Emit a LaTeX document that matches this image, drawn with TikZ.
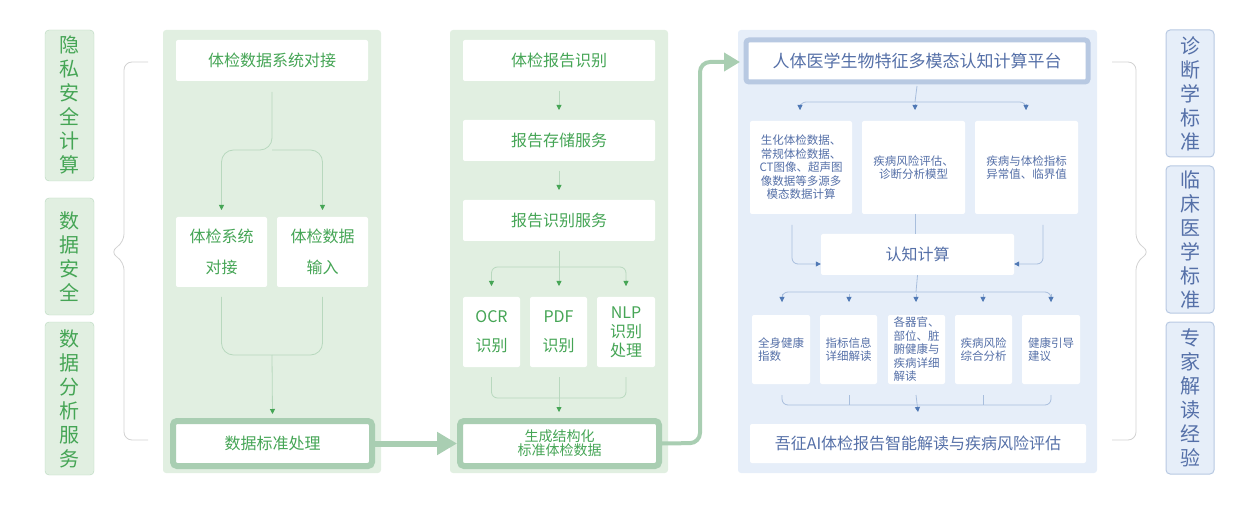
\documentclass[tikz,border=0pt]{standalone}
\usepackage{fontspec}
\setmainfont{Noto Sans CJK SC}
\usetikzlibrary{arrows.meta}
\definecolor{gbg}{HTML}{E1EFE1}
\definecolor{gtx}{HTML}{45A555}
\definecolor{gbd}{HTML}{A9CEB2}
\definecolor{gln}{HTML}{B8D8BE}
\definecolor{bbg}{HTML}{E6EEF9}
\definecolor{btx}{HTML}{5570A8}
\definecolor{bbd}{HTML}{B8C9E2}
\definecolor{bln}{HTML}{A8BEDD}
\definecolor{barr}{HTML}{4F78B5}
\begin{document}
\begin{tikzpicture}[x=1pt,y=-1pt,
  gbox/.style={fill=white,draw=none,rounded corners=2,text=gtx,font=\fontsize{16}{22}\selectfont,align=center,inner sep=0},
  bbox/.style={fill=white,draw=none,rounded corners=2,text=btx,font=\fontsize{11.5}{13.5}\selectfont,align=center,inner sep=0},
  glab/.style={fill=gbg,draw=gln,rounded corners=4,text=gtx,font=\fontsize{20}{24}\selectfont,align=center,inner sep=0,minimum width=49},
  blab/.style={fill=bbg,draw=bbd,line width=1,rounded corners=4,text=btx,font=\fontsize{20}{24}\selectfont,align=center,inner sep=0,minimum width=48},
  gl/.style={draw=gln,line width=0.8,rounded corners=12},
  ga/.style={draw=gln,line width=0.8,-{Triangle[length=5pt,width=5pt,fill=gtx,color=gtx]}},
  bl/.style={draw=bln,line width=0.8,rounded corners=10},
  ba/.style={draw=bln,line width=0.8,-{Triangle[length=5pt,width=5pt,fill=barr,color=barr]}},
  thickg/.style={gbox,draw=gbd,line width=6,rounded corners=4}]
\useasboundingbox (0,0) rectangle (1259,505);
% panels
\fill[gbg,rounded corners=3] (163,30) rectangle (381,473);
\fill[gbg,rounded corners=3] (450,30) rectangle (668,473);
\fill[bbg,rounded corners=3] (738,30) rectangle (1097,473);
% left labels
\node[glab,minimum height=151] (l1) at (69.5,105.5) {隐\\私\\安\\全\\计\\算};
\node[glab,minimum height=117] (l2) at (69.5,256.5) {数\\据\\安\\全};
\node[glab,minimum height=153] (l3) at (69.5,398.5) {数\\据\\分\\析\\服\\务};
% right labels
\node[blab,minimum height=127] (r1) at (1190,93.5) {诊\\断\\学\\标\\准};
\node[blab,minimum height=147] (r2) at (1190,239.5) {临\\床\\医\\学\\标\\准};
\node[blab,minimum height=152] (r3) at (1190,398) {专\\家\\解\\读\\经\\验};
% braces
\draw[gray!35,line width=0.8,rounded corners=8] (148,62) -- (124,62) -- (124,242) -- (110,252) -- (124,262) -- (124,440) -- (148,440);
\draw[gray!35,line width=0.8,rounded corners=8] (1112,62) -- (1136,62) -- (1136,242) -- (1150,252) -- (1136,262) -- (1136,440) -- (1112,440);
% panel 1
\node[gbox,minimum width=192,minimum height=41] (a1) at (272,60.5) {体检数据系统对接};
\node[gbox,minimum width=91,minimum height=70,font=\fontsize{16}{31}\selectfont] (a2) at (221.5,252) {体检系统\\对接};
\node[gbox,minimum width=91,minimum height=70,font=\fontsize{16}{31}\selectfont] (a3) at (322.5,252) {体检数据\\输入};
\node[thickg,minimum width=199,minimum height=45] (a4) at (272.5,443.5) {数据标准处理};
\coordinate (a1s) at (272,92);
\draw[gl] (a1s) -- (272,150) -| (a2.north|-0,210);
\draw[gl] (272,150) -| (a3.north|-0,210);
\draw[ga] (221.5,200) -- (221.5,210);
\draw[ga] (322.5,200) -- (322.5,210);
\draw[gl] (221.5,297) -- (221.5,355) -| (322.5,297);
\draw[ga] (272,355) -- (a4.north|-0,414);
% panel 2
\node[gbox,minimum width=192,minimum height=41] (b1) at (559,60.5) {体检报告识别};
\node[gbox,minimum width=192,minimum height=41] (b2) at (559,140.5) {报告存储服务};
\node[gbox,minimum width=192,minimum height=41] (b3) at (559,220.5) {报告识别服务};
\node[gbox,minimum width=57,minimum height=70,font=\fontsize{16}{29}\selectfont] (o1) at (491.5,332) {OCR\\识别};
\node[gbox,minimum width=57,minimum height=70,font=\fontsize{16}{29}\selectfont] (o2) at (558.5,332) {PDF\\识别};
\node[gbox,minimum width=58,minimum height=70,font=\fontsize{16}{19}\selectfont] (o3) at (626,332) {NLP\\识别\\处理};
\node[thickg,minimum width=199,minimum height=45,font=\fontsize{14}{14}\selectfont] (b4) at (559.5,443.5) {生成结构化\\标准体检数据};
\draw[ga] (559,91) -- (559,110);
\draw[ga] (559,171) -- (559,190);
\draw[ga] (559,251) -- (559,286);
\draw[gl,rounded corners=6] (491.5,286) |- (626,267) -- (626,286);
\draw[ga] (491.5,280) -- (491.5,286);
\draw[ga] (626,280) -- (626,286);
\draw[gl,rounded corners=6] (491.5,377) |- (626,398) -- (626,377);
\draw[ga] (559,377) -- (559,412);
% big arrows
\draw[gbd,line width=6,-{Triangle[length=20pt,width=22pt]}] (a4.east) -- (b4.west);
\draw[gbd,line width=4,rounded corners=10,-{Triangle[length=16pt,width=18pt]}] (b4.east) -- (700,443) -- (700,62) -- (740,62);
% panel 3
\node[bbox,draw=bbd,line width=5,rounded corners=3,minimum width=342,minimum height=42,font=\fontsize{17}{20}\selectfont] (c0) at (917,61) {人体医学生物特征多模态认知计算平台};
\node[bbox,minimum width=102,minimum height=93] (c1) at (801,167.5) {生化体检数据、\\常规体检数据、\\CT图像、超声图\\像数据等多源多\\模态数据计算};
\node[bbox,minimum width=103,minimum height=93] (c2) at (913.5,167.5) {疾病风险评估、\\诊断分析模型};
\node[bbox,minimum width=103,minimum height=93] (c3) at (1026.5,167.5) {疾病与体检指标\\异常值、临界值};
\node[bbox,minimum width=193,minimum height=41,font=\fontsize{16}{18}\selectfont] (ck) at (917.5,254.5) {认知计算};
\draw[bl,rounded corners=6] (c0.south|-0,86) -- (915,102);
\draw[bl,rounded corners=6] (800,110) |- (1026,102) -- (1026,110);
\draw[ba] (800,104) -- (800,110);
\draw[ba] (915,104) -- (915,110);
\draw[ba] (1026,104) -- (1026,110);
\draw[ba,rounded corners=6] (792,225) |- (ck.west|-0,264);
\draw[ba,rounded corners=6] (1043,225) |- (ck.east|-0,264);
\draw[bl] (915,214) -- (915,234);
\node[bbox,minimum width=58,minimum height=69] (d1) at (781,349.5) {全身健康\\指数\phantom{健康}};
\node[bbox,minimum width=57,minimum height=69] (d2) at (848.5,349.5) {指标信息\\详细解读};
\node[bbox,minimum width=57,minimum height=69] (d3) at (916.5,349.5) {各器官、\\部位、脏\\腑健康与\\疾病详细\\解读\phantom{详细}};
\node[bbox,minimum width=57,minimum height=69] (d4) at (983.5,349.5) {疾病风险\\综合分析};
\node[bbox,minimum width=58,minimum height=69] (d5) at (1051,349.5) {健康引导\\建议\phantom{引导}};
\draw[bl] (ck.south) -- (916,292);
\draw[bl,rounded corners=6] (782,302) |- (1051,292) -- (1051,302);
\foreach \x in {782,849,916,983,1051} \draw[ba] (\x,294) -- (\x,302);
\node[bbox,minimum width=336,minimum height=39,font=\fontsize{16}{18}\selectfont] (c9) at (918,443.5) {吾征AI体检报告智能解读与疾病风险评估};
\draw[bl,rounded corners=6] (782,395) |- (1051,405) -- (1051,395);
\draw[bl] (849,395) -- (849,405);
\draw[bl] (983,395) -- (983,405);
\draw[ba] (916,395) -- (c9.north|-0,412);
\end{tikzpicture}
\end{document}
